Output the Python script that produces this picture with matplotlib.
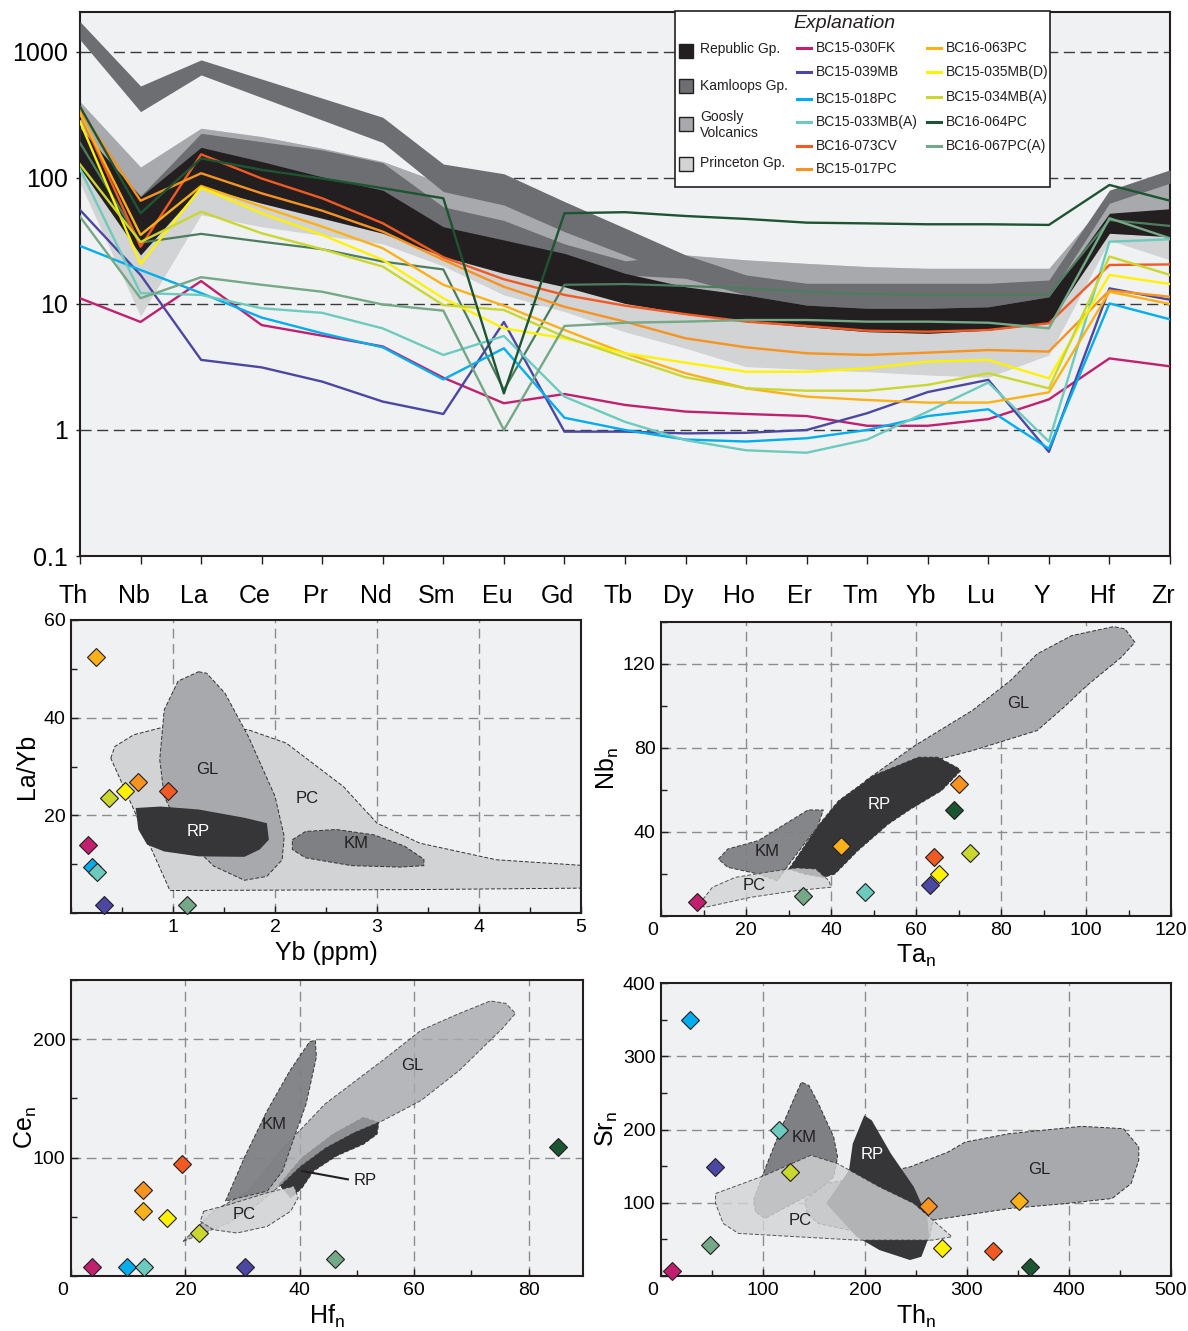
import numpy as np
import matplotlib
matplotlib.use("Agg")
import matplotlib.pyplot as plt
from matplotlib.patches import Polygon, Rectangle
from matplotlib.lines import Line2D
from matplotlib.ticker import MultipleLocator
from matplotlib.transforms import ScaledTranslation

plt.rcParams["font.family"] = ["Liberation Sans", "DejaVu Sans"]
plt.rcParams["mathtext.default"] = "regular"

# ---------------- spider diagram data ----------------
elements = ["Th", "Nb", "La", "Ce", "Pr", "Nd", "Sm", "Eu", "Gd", "Tb",
            "Dy", "Ho", "Er", "Tm", "Yb", "Lu", "Y", "Hf", "Zr"]

sample_names = ["BC15-030FK", "BC15-039MB", "BC15-018PC", "BC15-033MB(A)",
                "BC16-073CV", "BC15-017PC", "BC16-063PC", "BC15-035MB(D)",
                "BC15-034MB(A)", "BC16-064PC", "BC16-067PC(A)"]
sample_colors = ["#c1206f", "#4b47a3", "#00aeef", "#6ccbbe", "#f15a22", "#f7931e",
                 "#fbb117", "#fff200", "#c9d72e", "#1d5431", "#74a887"]

bc15_030fk = [11.1, 7.2, 15.2, 6.8, 5.6, 4.6, 2.6, 1.63, 1.93, 1.58, 1.40, 1.34, 1.29, 1.08, 1.08, 1.22, 1.75, 3.7, 3.2]
bc15_039mb = [55.7, 17.0, 3.6, 3.14, 2.42, 1.68, 1.34, 7.2, 0.97, 0.97, 0.94, 0.95, 1.0, 1.36, 2.0, 2.5, 0.67, 13.3, 10.8]
bc15_018pc = [28.9, 18.6, 12.2, 7.8, 5.85, 4.53, 2.52, 4.45, 1.25, 1.0, 0.84, 0.81, 0.86, 1.0, 1.29, 1.46, 0.71, 10.1, 7.55]
bc15_033mb = [118, 12.2, 11.8, 9.25, 8.5, 6.4, 3.94, 5.57, 1.84, 1.16, 0.83, 0.69, 0.66, 0.84, 1.4, 2.38, 0.81, 31.2, 32.6]
bc16_073cv = [326, 28.5, 154, 99, 69, 43.7, 23.5, 15.7, 11.8, 9.7, 8.3, 7.24, 6.69, 6.14, 6.03, 6.22, 7.03, 20.4, 20.6]
bc15_017pc = [347, 66, 109, 75.5, 55, 37.5, 22.4, 13.7, 9.5, 7.24, 5.34, 4.53, 4.06, 3.94, 4.11, 4.31, 4.19, 12.8, 11.4]
bc16_063pc = [326, 35.3, 86.4, 59.2, 41.1, 27.7, 14.2, 9.7, 6.22, 4.06, 2.82, 2.14, 1.84, 1.73, 1.65, 1.65, 1.99, 12.5, 10.0]
bc15_035mb = [280, 20.8, 83.8, 52.5, 35.3, 22.4, 11.1, 6.41, 5.34, 4.06, 3.42, 2.9, 2.9, 3.08, 3.49, 3.59, 2.57, 17.0, 14.4]
bc15_034mb = [128, 31, 54, 36.4, 27.2, 19.8, 9.8, 8.96, 5.5, 3.77, 2.62, 2.14, 2.05, 2.05, 2.28, 2.82, 2.14, 23.8, 17.0]
bc16_064pc = [368, 52.5, 143, 116, 99, 83, 69, 1.95, 52.5, 53.5, 49.9, 47.3, 44.2, 43.6, 42.9, 42.9, 42.4, 88, 66]
bc16_067pc = [49.3, 11.1, 16.3, 14.2, 12.5, 9.9, 8.85, 1.0, 6.69, 7.1, 7.24, 7.46, 7.46, 7.24, 7.24, 7.1, 6.41, 47.9, 33.2]
# extra green profile drawn without a legend entry
extra_green = [190, 30.7, 36, 31.2, 27.2, 21.7, 18.8, 2.08, 14.2, 14.4, 13.9, 13.3, 12.5, 12.0, 11.8, 11.8, 11.8, 46.4, 41.6]

spider_values = [bc15_030fk, bc15_039mb, bc15_018pc, bc15_033mb, bc16_073cv, bc15_017pc,
                 bc16_063pc, bc15_035mb, bc15_034mb, bc16_064pc, bc16_067pc]

# reference fields (envelopes) on the spider diagram
kam_upper_hi = [1740, 537, 865, 610, 430, 303, 129, 108, 65, 40, 24.5, 17, 14.6, 14.6, 14.6, 14.6, 15.5, 80, 116]
kam_upper_lo = [1250, 336, 657, 435, 288, 191, 78, 61, 37.5, 24.5, 16, 11.8, 9.8, 9.25, 9.25, 9.5, 11.4, 63, 91]
kam_lower_hi = [245, 72, 226, 194, 167, 132, 59, 46, 30, 22, 24.5]
kam_lower_lo = [200, 60, 170, 130, 100, 78, 40, 31, 24, 17, 16]
goosly_hi = [403, 122, 248, 213, 172, 135, 90, 70, 42, 28, 24.5, 22.4, 21, 19.8, 19.2, 19.2, 19.2, 70, 100]
republic_hi = [250, 71, 175, 135, 102, 80, 41, 32.2, 25.2, 17.5, 13.7, 11.8, 9.8, 9.25, 9.25, 9.5, 11.4, 52.5, 57]
republic_lo = [120, 24.5, 85, 63, 47.9, 36.4, 23.8, 17.5, 13.7, 10.1, 8.43, 7.24, 6.6, 6.03, 5.85, 6.2, 7.03, 36.4, 34.2]
princeton_lo = [91, 8, 51, 41, 35, 30, 20, 11.8, 8.7, 6.0, 4.45, 3.18, 3.03, 2.9, 2.73, 2.62, 3.94, 32, 22.4]

# ---------------- scatter data (same order as sample_names) ----------------
nan = np.nan
yb_ppm = [0.163, 0.327, 0.204, 0.252, 0.955, 0.652, 0.249, 0.533, 0.376, nan, 1.138]
la_yb = [13.9, 1.67, 9.4, 8.4, 24.9, 26.75, 52.5, 24.9, 23.5, nan, 1.67]
ta_n = [8.5, 63.4, nan, 47.9, 64.2, 70.1, 42.3, 65.4, 72.8, 69.0, 33.4]
nb_n = [6.5, 14.8, nan, 11.6, 27.9, 62.9, 33.3, 20.0, 30.0, 50.5, 9.7]
hf_n = [3.6, 30.5, 9.8, 12.8, 19.4, 12.5, 12.5, 16.7, 22.3, 85.1, 46.1]
ce_n = [7.6, 7.6, 7.6, 7.6, 94.9, 72.5, 55.2, 49.0, 36.3, 109, 14.2]
th_n = [11.2, 52.7, 28.4, 115.5, 325.2, 262, 351.4, 275.9, 126.4, 362.2, 47.9]
sr_n = [6.8, 148.9, 350, 199.7, 34, 95.8, 102.6, 37.7, 141.6, 11.8, 42.2]

# field outlines (x list, y list) for each discrimination plot
a_pc = ([0.39, 0.43, 0.615, 0.877, 1.25, 1.74, 2.11, 2.67, 3.0, 3.42, 4.17, 5.05, 5.05, 3.42, 0.97, 0.69],
        [31.7, 34.1, 36.5, 37.9, 38.9, 37.5, 34.8, 25.9, 18.4, 14.3, 10.9, 9.7, 5.1, 4.8, 4.6, 17.7])
a_gl = ([1.25, 1.33, 1.51, 1.74, 2.0, 2.09, 2.07, 1.92, 1.7, 1.4, 1.1, 0.914, 0.87, 0.914, 1.05],
        [49.4, 49.1, 45.0, 36.1, 23.9, 15.7, 10.9, 7.5, 6.7, 9.6, 15.7, 23.9, 31.4, 41.6, 47.5])
a_rp = ([0.634, 0.877, 1.25, 1.70, 1.92, 1.94, 1.85, 1.70, 1.25, 0.914, 0.746, 0.66],
        [21.5, 21.8, 21.2, 19.5, 18.4, 15.0, 13.0, 11.5, 11.6, 12.6, 14.0, 17.1])
a_km = ([2.17, 2.3, 2.6, 2.97, 3.27, 3.46, 3.46, 3.23, 2.75, 2.3, 2.17],
        [15.0, 16.7, 17.1, 16.0, 13.7, 11.0, 9.7, 9.4, 9.7, 11.3, 13.0])

b_gl = ([48.1, 59.7, 73.2, 82.2, 88.5, 96.6, 106.5, 109.2, 111.5, 108.3, 100.2, 94.8, 88.5, 73.2, 64.2, 55.3],
        [64.4, 81.1, 97.8, 112.1, 124.8, 133.5, 137.8, 136.7, 130.3, 123.2, 109.7, 99.4, 88.3, 78.7, 74.0, 69.2])
b_rp = ([30.1, 37.3, 41.8, 49.9, 60.6, 65.1, 69.6, 70.5, 66.0, 58.8, 53.5, 46.3, 40.9, 38.2, 33.7],
        [22.4, 43.8, 54.9, 66.8, 75.6, 75.6, 70.8, 69.2, 59.7, 51.0, 43.8, 31.1, 20.0, 18.4, 20.0])
b_km = ([13.5, 15.7, 22.9, 29.2, 34.6, 38.2, 36.8, 33.7, 29.6, 27.4, 22.9, 15.7],
        [27.1, 31.9, 35.9, 43.8, 50.5, 50.5, 42.2, 34.3, 23.2, 16.8, 20.0, 23.2])
b_pc = ([9.0, 12.1, 17.5, 24.7, 31.9, 36.4, 39.5, 40.0, 31.9, 21.1, 10.3],
        [5.7, 13.7, 18.4, 20.8, 22.9, 22.4, 16.8, 13.7, 12.1, 8.9, 4.1])

c_gl = ([19.6, 24.9, 31.0, 37.7, 44.4, 54.5, 61.2, 67.9, 73.3, 76.0, 77.7, 75.4, 67.9, 61.2, 54.5, 49.5, 44.5, 40.0, 37.0, 33.0, 27.6],
        [29.2, 54.7, 71.7, 111.3, 145.3, 182.2, 207.6, 221.8, 232.3, 230.3, 221.8, 209.0, 173.7, 148.2, 131.2, 121.0, 108.0, 92.0, 78.0, 62.0, 45.0])
c_rp = ([36.4, 40.4, 45.8, 51.1, 53.8, 53.5, 51.1, 46.4, 42.4, 40.4, 38.4],
        [77.3, 100.0, 119.8, 134.0, 129.7, 119.8, 111.3, 101.4, 88.7, 74.5, 66.0])
c_km = ([27.0, 30.3, 34.3, 38.3, 41.7, 42.7, 42.9, 41.1, 39.0, 37.0, 34.3],
        [63.2, 100.0, 139.7, 173.7, 197.8, 199.2, 185.0, 145.3, 117.0, 88.7, 71.7])
c_pc = ([23.2, 27.6, 34.3, 39.0, 39.7, 38.4, 34.3, 29.0, 24.9, 22.6],
        [54.7, 60.3, 70.3, 75.9, 66.0, 54.7, 41.9, 36.3, 39.1, 46.2])

d_km = ([92.7, 90.8, 100.2, 117.0, 128.2, 137.6, 145.0, 154.4, 169.3, 173.1, 169.3, 154.4, 117.0, 102.0],
        [87.6, 103.5, 139.8, 198.8, 235.1, 264.6, 260.1, 235.1, 189.7, 162.5, 135.3, 117.1, 89.9, 78.5])
d_rp = ([184.3, 188.0, 199.3, 206.7, 225.4, 247.9, 261.0, 262.8, 255.3, 244.1, 214.2, 191.8, 161.9],
        [144.3, 180.6, 219.2, 212.4, 167.0, 121.6, 80.8, 53.6, 26.3, 21.8, 35.4, 53.6, 99.0])
d_gl = ([141.3, 161.9, 199.3, 244.1, 281.5, 298.3, 341.3, 412.3, 453.5, 468.4, 468.4, 460.9, 442.2, 397.4, 341.3, 266.5, 262.8, 199.3, 154.4, 143.2],
        [103.5, 126.2, 135.3, 148.9, 169.3, 182.9, 194.3, 204.3, 201.1, 176.1, 158.0, 126.2, 105.8, 99.0, 92.1, 76.3, 49.0, 58.1, 71.7, 85.3])
d_pc = ([53.5, 102.0, 146.9, 173.1, 214.2, 247.9, 285.2, 266.5, 191.8, 75.9, 61.0, 53.5],
        [112.6, 137.5, 164.8, 153.5, 121.6, 99.0, 53.6, 49.0, 49.0, 58.1, 71.7, 99.0])

# colours
C_BG = "#f0f1f3"
C_REP = "#231f20"
C_KAM = "#6d6e71"
C_GOO = "#a7a9ac"
C_PRI = "#d1d3d4"
F_PC, F_GL, F_KM, F_RP = "#d1d3d4", "#a7a9ac", "#7f8083", "#363537"
INK = "#231f20"

fig = plt.figure(figsize=(11.88, 13.31), dpi=100)

# ================= spider diagram =================
ax = fig.add_axes([80 / 1188, 1 - 556 / 1331, 1090 / 1188, 544 / 1331])
x = np.arange(len(elements))
ax.set_yscale("log")
ax.set_xlim(0, 18)
ax.set_ylim(0.1, 2075)
ax.set_facecolor(C_BG)

for v in [1, 10, 100, 1000]:
    ax.axhline(v, color="#3a3a3a", lw=1.0, ls=(0, (8, 4)), zorder=0.5)

ax.fill_between(x, princeton_lo, goosly_hi, color=C_PRI, lw=0, zorder=1)
ax.fill_between(x, republic_lo, goosly_hi, color=C_GOO, lw=0, zorder=2)
ax.fill_between(x, kam_upper_lo, kam_upper_hi, color=C_KAM, lw=0, zorder=3)
ax.fill_between(x[:len(kam_lower_hi)], kam_lower_lo, kam_lower_hi, color=C_KAM, lw=0, zorder=3)
ax.fill_between(x, republic_lo, republic_hi, color=C_REP, lw=0, zorder=4)

ax.plot(x, extra_green, color="#4d7d5f", lw=1.6, zorder=5)
for vals, col in zip(spider_values, sample_colors):
    ax.plot(x, vals, color=col, lw=1.7, zorder=5)

ax.set_xticks(x)
ax.set_xticklabels(elements, fontsize=18)
ax.set_yticks([0.1, 1, 10, 100, 1000])
ax.set_yticklabels(["0.1", "1", "10", "100", "1000"], fontsize=18)
ax.yaxis.set_minor_locator(plt.NullLocator())
ax.tick_params(axis="x", length=6, width=1, pad=14, color=INK)
ax.tick_params(axis="y", length=3, width=1, pad=6, color=INK)
shift = ScaledTranslation(-7 / 100, 0, fig.dpi_scale_trans)
for lab in ax.get_xticklabels():
    lab.set_transform(lab.get_transform() + shift)
for sp in ax.spines.values():
    sp.set_linewidth(1.5)
    sp.set_color(INK)


# ================= scatter plots =================
def draw_field(ax, pts, fc, z, alpha=1.0, dashed=True):
    poly = Polygon(np.column_stack(pts), closed=True, fc=fc, alpha=alpha,
                   ec="#333333" if dashed else "none", lw=0.7,
                   ls=(0, (4, 2)), zorder=z)
    ax.add_patch(poly)


def setup(ax, xlim, ylim, xmaj, ymaj, xmin, ymin, xgrid, ygrid, zero_label):
    ax.set_xlim(*xlim)
    ax.set_ylim(*ylim)
    ax.set_facecolor(C_BG)
    ax.set_xticks(xmaj)
    ax.set_yticks(ymaj)
    ax.xaxis.set_minor_locator(MultipleLocator(xmin))
    ax.yaxis.set_minor_locator(MultipleLocator(ymin))
    ax.tick_params(which="both", direction="in", labelsize=14, width=1, color=INK, pad=4)
    ax.tick_params(which="major", length=5)
    ax.tick_params(which="minor", length=4)
    for g in xgrid:
        ax.axvline(g, color="#8c8c8c", lw=1, ls=(0, (7, 4)), zorder=0.5)
    for g in ygrid:
        ax.axhline(g, color="#8c8c8c", lw=1, ls=(0, (7, 4)), zorder=0.5)
    for sp in ax.spines.values():
        sp.set_linewidth(1.5)
        sp.set_color(INK)
    if zero_label:
        lab = ax.get_xticklabels()[0]
        lab.set_transform(lab.get_transform() + ScaledTranslation(-8 / 100, 0, fig.dpi_scale_trans))


def points(ax, xs, ys):
    for xv, yv, col in zip(xs, ys, sample_colors):
        ax.plot(xv, yv, marker="D", ms=9.5, mfc=col, mec="#231f20", mew=0.8,
                ls="none", zorder=10, clip_on=False)


def field_label(ax, xv, yv, text, color=INK):
    ax.text(xv, yv, text, fontsize=12, color=color, ha="center", va="center", zorder=8)


# --- La/Yb vs Yb ---
axa = fig.add_axes([71 / 1188, 1 - 913 / 1331, 510 / 1188, 293 / 1331])
setup(axa, (0, 5), (0, 60), [1, 2, 3, 4, 5], [20, 40, 60], 0.5, 10,
      [1, 2, 3, 4], [20, 40], False)
draw_field(axa, a_pc, F_PC, 1)
draw_field(axa, a_gl, F_GL, 2)
draw_field(axa, a_rp, F_RP, 3, dashed=False)
draw_field(axa, a_km, F_KM, 3)
field_label(axa, 1.34, 29.3, "GL")
field_label(axa, 2.32, 23.5, "PC")
field_label(axa, 1.25, 16.7, "RP", "white")
field_label(axa, 2.8, 14.3, "KM")
points(axa, yb_ppm, la_yb)
axa.set_xlabel("Yb (ppm)", fontsize=18)
axa.set_ylabel("La/Yb", fontsize=18)
axa.xaxis.set_label_coords(0.5, -0.095)
axa.yaxis.set_label_coords(-0.062, 0.5)

# --- Nb_n vs Ta_n ---
axb = fig.add_axes([661 / 1188, 1 - 916 / 1331, 510 / 1188, 294 / 1331])
setup(axb, (0, 120), (0, 140), [0, 20, 40, 60, 80, 100, 120], [40, 80, 120], 10, 20,
      [20, 40, 60, 80, 100], [40, 80, 120], True)
draw_field(axb, b_gl, F_GL, 1)
draw_field(axb, b_rp, F_RP, 2)
draw_field(axb, b_km, F_KM, 3, alpha=0.95)
draw_field(axb, b_pc, F_PC, 4, alpha=0.8)
field_label(axb, 84, 101.3, "GL")
field_label(axb, 51.4, 53, "RP", "white")
field_label(axb, 24.9, 30.8, "KM")
field_label(axb, 22, 14.4, "PC")
points(axb, ta_n, nb_n)
axb.set_xlabel("Ta$_{n}$", fontsize=18)
axb.set_ylabel("Nb$_{n}$", fontsize=18)
axb.xaxis.set_label_coords(0.5, -0.09)
axb.yaxis.set_label_coords(-0.078, 0.5)

# --- Ce_n vs Hf_n ---
axc = fig.add_axes([71 / 1188, 1 - 1276 / 1331, 512 / 1188, 296 / 1331])
setup(axc, (0, 89.5), (0, 250), [0, 20, 40, 60, 80], [100, 200], 10, 50,
      [20, 40, 60, 80], [100, 200], True)
draw_field(axc, c_rp, F_RP, 1)
draw_field(axc, c_gl, F_GL, 2, alpha=0.8)
draw_field(axc, c_km, F_KM, 3, alpha=0.95)
draw_field(axc, c_pc, F_PC, 4, alpha=0.85)
field_label(axc, 59.7, 177.9, "GL")
field_label(axc, 35.5, 127.8, "KM")
field_label(axc, 30.3, 51.8, "PC")
field_label(axc, 51.5, 81, "RP")
axc.plot([40.4, 48.4], [88.7, 81.6], color=INK, lw=1.5, zorder=8)
points(axc, hf_n, ce_n)
axc.set_xlabel("Hf$_{n}$", fontsize=18)
axc.set_ylabel("Ce$_{n}$", fontsize=18)
axc.xaxis.set_label_coords(0.5, -0.09)
axc.yaxis.set_label_coords(-0.062, 0.5)

# --- Sr_n vs Th_n ---
axd = fig.add_axes([661 / 1188, 1 - 1276 / 1331, 510 / 1188, 293 / 1331])
setup(axd, (0, 500), (0, 400), [0, 100, 200, 300, 400, 500], [100, 200, 300, 400], 50, 50,
      [100, 200, 300, 400], [100, 200, 300], True)
draw_field(axd, d_km, F_KM, 1)
draw_field(axd, d_gl, F_GL, 2)
draw_field(axd, d_rp, F_RP, 3, dashed=False)
draw_field(axd, d_pc, F_PC, 4, alpha=0.8)
field_label(axd, 140.2, 189.7, "KM")
field_label(axd, 206.7, 166.1, "RP", "white")
field_label(axd, 371.2, 145.3, "GL")
field_label(axd, 136.4, 75.3, "PC")
points(axd, th_n, sr_n)
axd.set_xlabel("Th$_{n}$", fontsize=18)
axd.set_ylabel("Sr$_{n}$", fontsize=18)
axd.xaxis.set_label_coords(0.5, -0.09)
axd.yaxis.set_label_coords(-0.08, 0.5)

# ================= explanation box (pixel coords overlay) =================
lax = fig.add_axes([0, 0, 1, 1], zorder=20)
lax.set_xlim(0, 1188)
lax.set_ylim(1331, 0)
lax.axis("off")
lax.add_patch(Rectangle((675, 11), 375, 176, fc="white", ec=INK, lw=1.2))
lax.text(844, 24, "Explanation", style="italic", fontsize=14, ha="center", va="center", color=INK)

group_names = ["Republic Gp.", "Kamloops Gp.", "Goosly\nVolcanics", "Princeton Gp."]
group_colors = [C_REP, C_KAM, C_GOO, C_PRI]
group_rows = [51, 86, 124, 164]
group_text_y = [49, 86, 125, 163]
for name, col, yr, yt in zip(group_names, group_colors, group_rows, group_text_y):
    lax.add_patch(Rectangle((679, yr - 7), 14, 14, fc=col, ec=INK, lw=1))
    lax.text(700, yt, name, fontsize=10, va="center", ha="left", color=INK, linespacing=1.25)

col2_rows = [48, 72, 99, 122, 146, 169]
col3_rows = [48, 72, 97, 122, 146]
for i, (name, col) in enumerate(zip(sample_names, sample_colors)):
    if i < 6:
        xl, yr = 797, col2_rows[i]
    else:
        xl, yr = 927, col3_rows[i - 6]
    lax.add_line(Line2D([xl, xl + 14], [yr, yr], color=col, lw=2.2))
    lax.text(xl + 19, yr, name, fontsize=10, va="center", ha="left", color=INK)

fig.savefig("out.png", dpi=100)
